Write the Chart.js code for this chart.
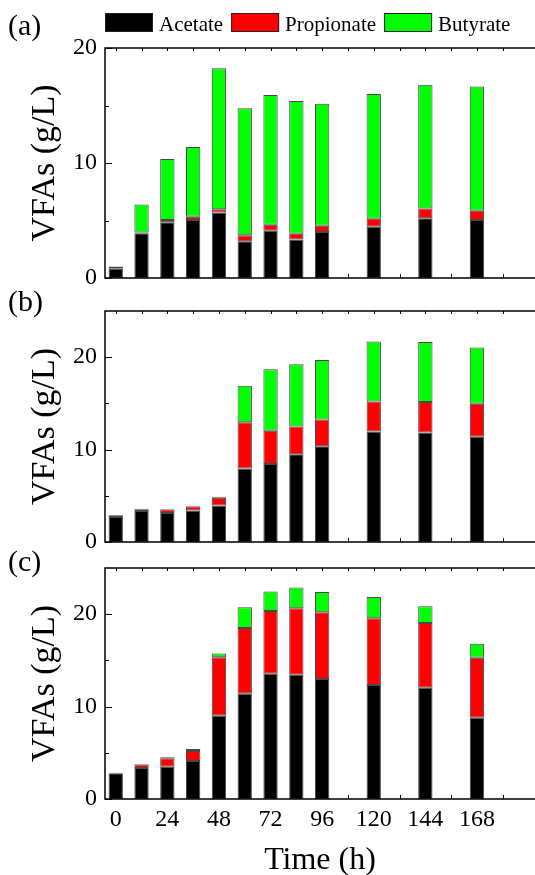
<!DOCTYPE html>
<html>
<head>
<meta charset="utf-8">
<script src="https://cdn.jsdelivr.net/npm/chart.js@4.4.1/dist/chart.umd.min.js"></script>
<style>
    html, body { margin: 0; padding: 0; background: #fff; }
    body { width: 535px; height: 875px; position: relative; overflow: hidden; }
    .panel { position: absolute; left: 0; width: 535px; }
</style>
</head>
<body>
<div class="panel" style="top:0;height:290px"><canvas id="chartA"></canvas></div>
<div class="panel" style="top:290px;height:260px"><canvas id="chartB"></canvas></div>
<div class="panel" style="top:550px;height:325px"><canvas id="chartC"></canvas></div>
<script>
// Sampling times (h) and axis ticks
const times = [0, 12, 24, 36, 48, 60, 72, 84, 96, 120, 144, 168];
const timeTicks = [0, 24, 48, 72, 96, 120, 144, 168];
const minorTimeTicks = [12, 36, 60, 84, 108, 132, 156, 180];
const seriesNames = ['Acetate', 'Propionate', 'Butyrate'];
const seriesColors = ['#000000', '#ff0000', '#00ff00'];
const panelLabels = ['(a)', '(b)', '(c)'];

// Panel (a)
const acetateA = [0.8, 3.9, 4.85, 5.05, 5.7, 3.2, 4.1, 3.35, 4.0, 4.45, 5.2, 5.05];
const propionateA = [0.07, 0.05, 0.2, 0.28, 0.27, 0.52, 0.52, 0.5, 0.55, 0.7, 0.85, 0.8];
const butyrateA = [0.13, 2.45, 5.3, 6.06, 12.26, 11.05, 11.3, 11.55, 10.6, 10.85, 10.75, 10.8];
const yTicksA = [0, 10, 20];
const yMinorA = [5, 15];

// Panel (b)
const acetateB = [2.7, 3.35, 3.15, 3.4, 3.95, 7.95, 8.45, 9.5, 10.35, 11.95, 11.85, 11.4];
const propionateB = [0.2, 0.2, 0.38, 0.45, 0.85, 5.0, 3.6, 3.0, 2.9, 3.25, 3.3, 3.55];
const butyrateB = [0.02, 0.05, 0.05, 0.08, 0.1, 3.95, 6.65, 6.75, 6.45, 6.5, 6.5, 6.1];
const yTicksB = [0, 10, 20];
const yMinorB = [5, 15];

// Panel (c)
const acetateC = [2.8, 3.35, 3.5, 4.1, 9.0, 11.4, 13.55, 13.45, 13.0, 12.35, 12.05, 8.8];
const propionateC = [0.03, 0.38, 0.9, 1.1, 6.35, 7.1, 6.8, 7.2, 7.2, 7.2, 7.0, 6.5];
const butyrateC = [0.01, 0.05, 0.12, 0.2, 0.4, 2.25, 2.1, 2.25, 2.2, 2.3, 1.8, 1.5];
const yTicksC = [0, 10, 20];
const yMinorC = [5, 15];

const serif = "'Liberation Serif', 'Times New Roman', serif";

// inward tick marks, frame and panel label
const framePlugin = {
    id: 'frame',
    beforeDatasetsDraw(chart, args, opts) {
        const ctx = chart.ctx;
        const area = chart.chartArea;
        const x = chart.scales.x, y = chart.scales.y;
        ctx.save();
        ctx.strokeStyle = '#000';
        ctx.lineWidth = 1;
        timeTicks.concat(minorTimeTicks).forEach(v => {
            const px = Math.round(x.getPixelForValue(v)) + 0.5;
            ctx.beginPath();
            ctx.moveTo(px, area.bottom); ctx.lineTo(px, area.bottom - 4);
            ctx.moveTo(px, area.top); ctx.lineTo(px, area.top + 3);
            ctx.stroke();
        });
        opts.yMajor.forEach(v => {
            const py = Math.round(y.getPixelForValue(v)) + 0.5;
            ctx.beginPath();
            ctx.moveTo(area.left, py); ctx.lineTo(area.left + 7, py);
            ctx.stroke();
        });
        opts.yMinor.forEach(v => {
            const py = Math.round(y.getPixelForValue(v)) + 0.5;
            ctx.beginPath();
            ctx.moveTo(area.left, py); ctx.lineTo(area.left + 4, py);
            ctx.stroke();
        });
        ctx.restore();
    },
    afterDatasetsDraw(chart, args, opts) {
        const ctx = chart.ctx;
        const area = chart.chartArea;
        ctx.save();
        ctx.strokeStyle = '#000';
        ctx.lineWidth = 1.5;
        ctx.beginPath();
        ctx.moveTo(chart.width, area.top);
        ctx.lineTo(area.left, area.top);
        ctx.lineTo(area.left, area.bottom);
        ctx.lineTo(chart.width, area.bottom);
        ctx.stroke();

        ctx.fillStyle = '#000';
        ctx.font = '30px ' + serif;
        ctx.textBaseline = 'alphabetic';
        ctx.textAlign = 'left';
        ctx.fillText(opts.label, 8, opts.labelY);

        if (opts.legend) {
            let lx = area.left;
            ctx.font = '21px ' + serif;
            chart.data.datasets.forEach(ds => {
                ctx.fillStyle = ds.backgroundColor;
                ctx.fillRect(lx, 13, 48, 19);
                ctx.lineWidth = 1;
                ctx.strokeStyle = '#222';
                ctx.strokeRect(lx + 0.5, 13.5, 47, 18);
                lx += 54;
                ctx.fillStyle = '#000';
                ctx.fillText(ds.label, lx, 31);
                lx += ctx.measureText(ds.label).width + 8;
            });
        }
        ctx.restore();
    }
};

function makePanel(id, acetate, propionate, butyrate, yMax, yTicks, yMinor, opts) {
    const values = [acetate, propionate, butyrate];
    const datasets = seriesNames.map((name, i) => ({
        label: name,
        data: times.map((t, j) => ({ x: t, y: values[i][j] })),
        backgroundColor: seriesColors[i],
        borderColor: 'rgba(40,40,40,0.85)',
        borderWidth: 1,
        borderSkipped: false,
        barPercentage: 0.555,
        categoryPercentage: 1
    }));

    return new Chart(document.getElementById(id), {
        type: 'bar',
        data: { datasets: datasets },
        plugins: [framePlugin],
        options: {
            responsive: true,
            maintainAspectRatio: false,
            animation: false,
            devicePixelRatio: 1,
            layout: { padding: { top: opts.padTop, bottom: opts.padBottom, left: 0, right: 0 } },
            plugins: {
                legend: { display: false },
                tooltip: { enabled: false },
                frame: { label: opts.label, labelY: opts.labelY, legend: opts.legend, yMajor: yTicks, yMinor: yMinor }
            },
            scales: {
                x: {
                    type: 'linear',
                    stacked: true,
                    min: -5,
                    max: 195,
                    offset: false,
                    grid: { display: false, drawTicks: false },
                    border: { display: false },
                    afterBuildTicks: scale => { scale.ticks = timeTicks.map(v => ({ value: v })); },
                    afterFit: scale => {
                        scale.height = opts.xHeight;
                        scale.paddingLeft = 0;
                        scale.paddingRight = 0;
                    },
                    ticks: {
                        display: opts.showX,
                        padding: 6,
                        color: '#000',
                        font: { family: serif, size: 24 }
                    },
                    title: {
                        display: opts.showX,
                        text: 'Time (h)',
                        color: '#000',
                        padding: { top: 0, bottom: 0 },
                        font: { family: serif, size: 32, lineHeight: 0.9 }
                    }
                },
                y: {
                    stacked: true,
                    min: 0,
                    max: yMax,
                    grid: { display: false, drawTicks: false },
                    border: { display: false },
                    afterBuildTicks: scale => { scale.ticks = yTicks.map(v => ({ value: v })); },
                    afterFit: scale => {
                        scale.width = 105;
                        scale.paddingTop = 0;
                        scale.paddingBottom = 0;
                    },
                    ticks: {
                        padding: 8,
                        color: '#000',
                        font: { family: serif, size: 24 }
                    },
                    title: {
                        display: true,
                        text: 'VFAs (g/L)',
                        color: '#000',
                        padding: { top: 25, bottom: 0 },
                        font: { family: serif, size: 34 }
                    }
                }
            }
        }
    });
}

makePanel('chartA', acetateA, propionateA, butyrateA, 20, yTicksA, yMinorA,
    { label: panelLabels[0], labelY: 35, legend: true, padTop: 48, padBottom: 12, xHeight: 0, showX: false });
makePanel('chartB', acetateB, propionateB, butyrateB, 25, yTicksB, yMinorB,
    { label: panelLabels[1], labelY: 21, legend: false, padTop: 21, padBottom: 8, xHeight: 0, showX: false });
makePanel('chartC', acetateC, propionateC, butyrateC, 25, yTicksC, yMinorC,
    { label: panelLabels[2], labelY: 21, legend: false, padTop: 18, padBottom: 0, xHeight: 76, showX: true });
</script>
</body>
</html>
